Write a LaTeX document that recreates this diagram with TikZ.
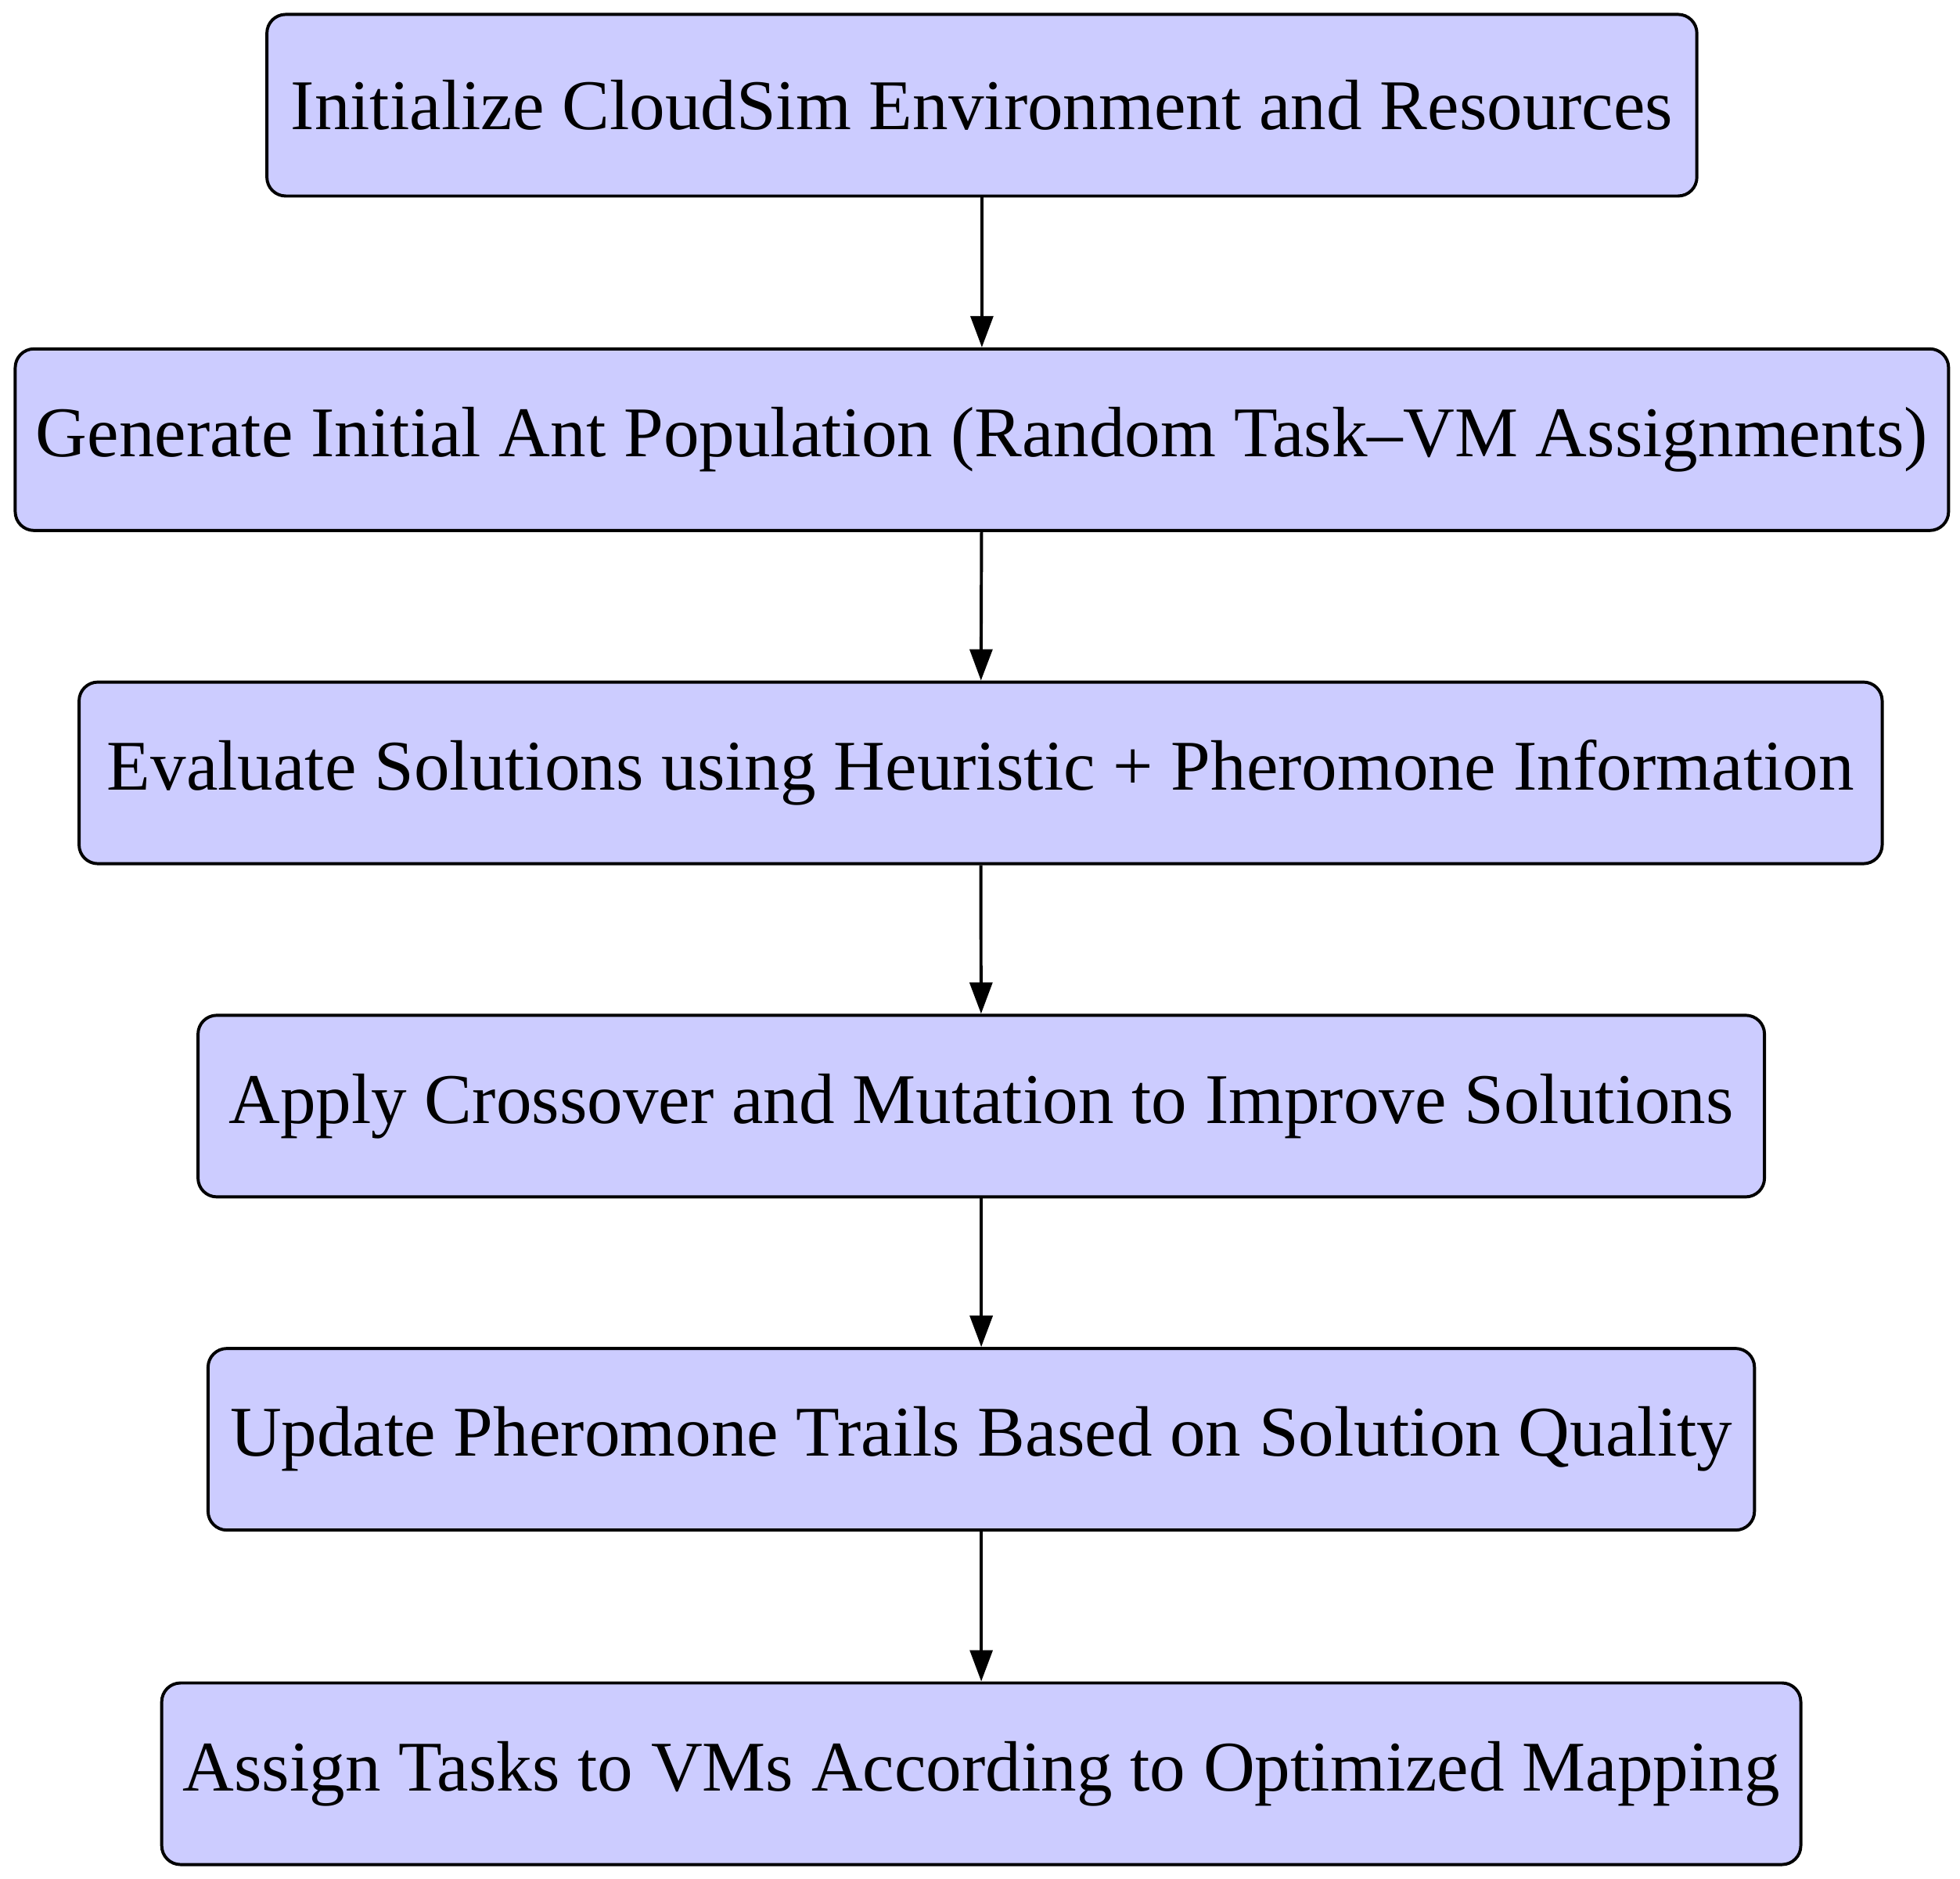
\documentclass[tikz,border=0pt]{standalone}
\usepackage{fontspec}
\setmainfont{Liberation Serif}
\usetikzlibrary{arrows.meta}
\begin{document}
\begin{tikzpicture}[x=0.02cm,y=-0.02cm,
  box/.style={draw=black,line width=1.4pt,fill={rgb,255:red,204;green,204;blue,255},rounded corners=0.3cm,minimum height=2.9cm,inner sep=0pt,font=\fontsize{32.4}{36}\selectfont},
  arr/.style={-{Triangle[length=0.5cm,width=0.36cm]},line width=1.4pt}]
\useasboundingbox (0,2) rectangle (1565,1502);
\node[box,minimum width=22.84cm] (a) at (784,86) {Initialize CloudSim Environment and Resources};
\node[box,minimum width=30.88cm] (b) at (784,353) {Generate Initial Ant Population (Random Task--VM Assignments)};
\node[box,minimum width=28.8cm] (c) at (783,619) {Evaluate Solutions using Heuristic + Pheromone Information};
\node[box,minimum width=25.02cm] (d) at (783.5,885) {Apply Crossover and Mutation to Improve Solutions};
\node[box,minimum width=24.7cm] (e) at (783.5,1151) {Update Pheromone Trails Based on Solution Quality};
\node[box,minimum width=26.18cm] (f) at (783.5,1418) {Assign Tasks to VMs According to Optimized Mapping};
\draw[arr] (a) -- (b);
\draw[arr] (b) -- (c);
\draw[arr] (c) -- (d);
\draw[arr] (d) -- (e);
\draw[arr] (e) -- (f);
\end{tikzpicture}
\end{document}
